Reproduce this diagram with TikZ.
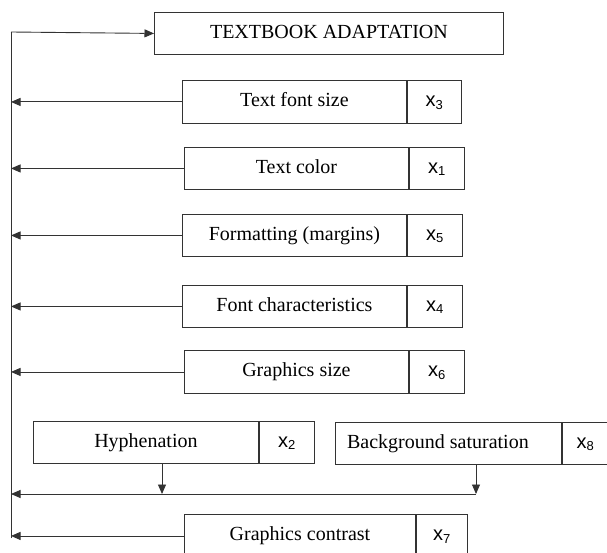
\documentclass[tikz,border=0pt]{standalone}
\usepackage{fontspec}
\setmainfont{Liberation Serif}
\newfontfamily\xsans{Liberation Sans}
\usetikzlibrary{arrows.meta}
\newcommand{\xv}[1]{{\xsans x\raisebox{-0.12em}{\fontsize{13}{13}\selectfont #1}}}
\definecolor{lc}{gray}{0.2}
\tikzset{
  ln/.style={draw=lc, line width=0.9pt},
  tipA/.tip={Triangle[length=9.5pt,width=8pt]},
  arr/.style={ln, -tipA},
  mainbox/.style={ln, rectangle, anchor=north west, inner sep=0pt,
     font=\fontsize{20}{22}\selectfont, text height=14pt, text depth=4pt},
  xbox/.style={ln, rectangle, anchor=north west, inner sep=0pt,
     font=\fontsize{20}{22}\selectfont, text height=14pt, text depth=4pt},
}
\begin{document}
\begin{tikzpicture}[x=1pt,y=1pt]
\useasboundingbox (0,0) rectangle (607,-553);
\clip (0,0) rectangle (607,-553);
% title
\node[mainbox, minimum width=349pt, minimum height=42pt] (title) at (154,-12) {TEXTBOOK ADAPTATION};
% items
\node[mainbox, minimum width=224pt, minimum height=43pt] (tfs) at (182,-80) {Text font size};
\node[xbox, minimum width=54pt, minimum height=43pt] (tfsx) at (tfs.north east) {\xv{3}};
\node[mainbox, minimum width=224pt, minimum height=42pt] (tc) at (184,-147) {Text color};
\node[xbox, minimum width=55pt, minimum height=42pt] (tcx) at (tc.north east) {\xv{1}};
\node[mainbox, minimum width=224pt, minimum height=42pt] (fm) at (182,-214) {Formatting (margins)};
\node[xbox, minimum width=55pt, minimum height=42pt] (fmx) at (fm.north east) {\xv{5}};
\node[mainbox, minimum width=224pt, minimum height=42pt] (fc) at (182,-285) {Font characteristics};
\node[xbox, minimum width=55pt, minimum height=42pt] (fcx) at (fc.north east) {\xv{4}};
\node[mainbox, minimum width=224pt, minimum height=43pt] (gs) at (184,-350) {Graphics size};
\node[xbox, minimum width=55pt, minimum height=43pt] (gsx) at (gs.north east) {\xv{6}};
\node[mainbox, minimum width=225pt, minimum height=42pt] (hy) at (33,-421) {Hyphenation};
\node[xbox, minimum width=55pt, minimum height=42pt] (hyx) at (hy.north east) {\xv{2}};
\node[mainbox, minimum width=226pt, minimum height=42pt] (bg) at (335,-422) {Background saturation\hspace*{21pt}};
\node[xbox, minimum width=46pt, minimum height=42pt] (bgx) at (bg.north east) {\xv{8}};
\node[mainbox, minimum width=231pt, minimum height=43pt] (gc) at (184,-514) {Graphics contrast};
\node[xbox, minimum width=51pt, minimum height=43pt] (gcx) at (gc.north east) {\xv{7}};
% trunk
\coordinate (ttop) at (11,-32);
\coordinate (tbot) at (11,-538);
\coordinate (j1) at (162,-494);
\coordinate (j2) at (476,-494);
\draw[ln] (tbot) -- (ttop);
\draw[arr] (ttop) -- (title.west);
\foreach \n in {tfs,tc,fm,fc,gs,gc}
  \draw[arr] (\n.west) -- (\n.west -| ttop);
\draw[arr] (hy.south -| j1) -- (j1);
\draw[arr] (bg.south -| j2) -- (j2);
\draw[arr] (j2) -- (j2 -| ttop);
\end{tikzpicture}
\end{document}
